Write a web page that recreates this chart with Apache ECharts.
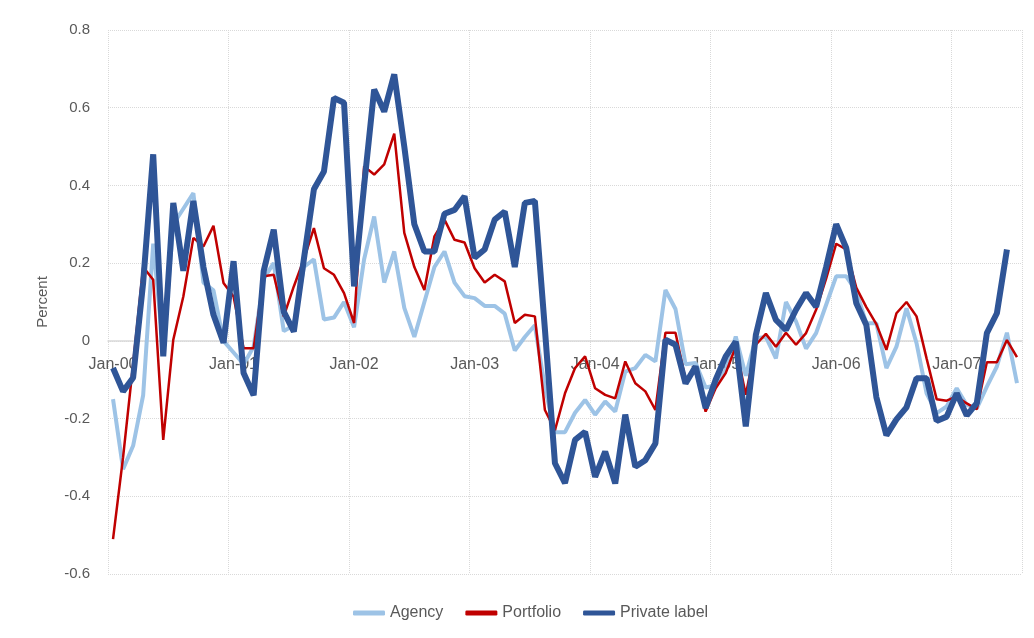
<!DOCTYPE html>
<html>
<head>
<meta charset="utf-8">
<script src="https://cdn.jsdelivr.net/npm/echarts/dist/echarts.min.js"></script>
<style>
  html, body { margin: 0; padding: 0; background: #fff; }
  #chart { width: 1034px; height: 638px; }
</style>
</head>
<body>
<div id="chart"></div>
<script>
// months Jan-00 .. Jul-07
var monthNames = ['Jan','Feb','Mar','Apr','May','Jun','Jul','Aug','Sep','Oct','Nov','Dec'];
var years = ['00','01','02','03','04','05','06','07'];
var lastMonthOfLastYear = 7;

var agency = [
  -0.15, -0.33, -0.27, -0.14, 0.25, -0.02, 0.30, 0.34, 0.38, 0.15, 0.13, 0.00,
  -0.03, -0.06, -0.015, 0.16, 0.20, 0.025, 0.04, 0.19, 0.21, 0.055, 0.06, 0.10,
  0.035, 0.21, 0.32, 0.15, 0.23, 0.085, 0.01, 0.10, 0.19, 0.23, 0.15, 0.115,
  0.11, 0.09, 0.09, 0.07, -0.025, 0.01, 0.04, -0.12, -0.235, -0.235, -0.185, -0.152,
  -0.19, -0.156, -0.182, -0.079, -0.07, -0.036, -0.053, 0.131, 0.082, -0.06, -0.057, -0.12,
  -0.115, -0.075, 0.011, -0.09, 0.007, 0.01, -0.045, 0.10, 0.05, -0.02, 0.02, 0.093,
  0.166, 0.166, 0.128, 0.045, 0.045, -0.07, -0.015, 0.084, -0.006, -0.135, -0.186, -0.169,
  -0.122, -0.165, -0.174, -0.118, -0.066, 0.021, -0.109
];

var portfolio = [
  -0.51, -0.30, -0.06, 0.19, 0.157, -0.255, 0.003, 0.114, 0.265, 0.243, 0.296, 0.149,
  0.114, -0.019, -0.019, 0.166, 0.17, 0.063, 0.14, 0.21, 0.29, 0.187, 0.17, 0.123,
  0.046, 0.449, 0.428, 0.454, 0.533, 0.278, 0.19, 0.131, 0.269, 0.312, 0.26, 0.253,
  0.187, 0.15, 0.17, 0.153, 0.046, 0.067, 0.063, -0.178, -0.23, -0.135, -0.07, -0.04,
  -0.122, -0.139, -0.148, -0.053, -0.109, -0.13, -0.178, 0.021, 0.021, -0.10, -0.079, -0.182,
  -0.122, -0.083, -0.015, -0.139, -0.01, 0.018, -0.015, 0.021, -0.01, 0.02, 0.08, 0.16,
  0.25, 0.235, 0.137, 0.087, 0.043, -0.023, 0.071, 0.10, 0.063, -0.045, -0.15, -0.154,
  -0.143, -0.161, -0.176, -0.055, -0.055, 0.002, -0.042
];

var privateLabel = [
  -0.07, -0.13, -0.095, 0.15, 0.48, -0.04, 0.355, 0.18, 0.36, 0.19, 0.067, -0.005,
  0.205, -0.083, -0.14, 0.18, 0.286, 0.075, 0.024, 0.21, 0.39, 0.436, 0.625, 0.613,
  0.14, 0.40, 0.647, 0.59, 0.686, 0.50, 0.30, 0.23, 0.23, 0.327, 0.337, 0.372,
  0.214, 0.235, 0.312, 0.333, 0.19, 0.355, 0.36, 0.03, -0.315, -0.366, -0.255, -0.234,
  -0.35, -0.285, -0.367, -0.19, -0.324, -0.307, -0.264, 0.003, -0.01, -0.11, -0.066, -0.173,
  -0.10, -0.04, -0.002, -0.22, 0.015, 0.123, 0.054, 0.028, 0.08, 0.123, 0.088, 0.19,
  0.30, 0.239, 0.097, 0.041, -0.145, -0.243, -0.202, -0.171, -0.096, -0.096, -0.206, -0.195,
  -0.135, -0.192, -0.16, 0.02, 0.071, 0.235, null
];

var yTicks = [-0.6, -0.4, -0.2, 0, 0.2, 0.4, 0.6, 0.8];

var categories = [];
years.forEach(function (y, yi) {
  monthNames.forEach(function (m, mi) {
    if (yi === years.length - 1 && mi >= lastMonthOfLastYear) return;
    categories.push(m + '-' + y);
  });
});

var font = 'Liberation Sans';
var isJan = function (index) { return index % 12 === 0; };

// grid geometry, x axis sits on the zero line
var gridTop = 30, gridBottom = 64, chartH = 638;
var plotH = chartH - gridTop - gridBottom;
var yMin = yTicks[0], yMax = yTicks[yTicks.length - 1];
var zeroFromBottom = plotH * (0 - yMin) / (yMax - yMin);

var chart = echarts.init(document.getElementById('chart'));
var option = {
  animation: false,
  textStyle: { fontFamily: font },
  grid: { left: 108, right: 12, top: gridTop, bottom: gridBottom },
  legend: {
    bottom: 12,
    left: 348,
    itemWidth: 32,
    itemHeight: 5,
    itemGap: 22,
    icon: 'roundRect',
    textStyle: { color: '#595959', fontSize: 16, fontFamily: font },
    data: ['Agency', 'Portfolio', 'Private label']
  },
  xAxis: {
    type: 'category',
    data: categories,
    boundaryGap: true,
    offset: -zeroFromBottom,
    axisLine: { onZero: false, lineStyle: { color: '#d9d9d9', width: 1.5 } },
    axisTick: { show: false },
    axisLabel: { interval: 0, formatter: function (v, i) { return isJan(i) ? v : ''; },
      color: '#595959', fontSize: 16, margin: 16 },
    splitLine: { show: true, interval: isJan, lineStyle: { color: '#d9d9d9', type: 'dotted', width: 1 } }
  },
  yAxis: {
    type: 'value',
    min: yMin,
    max: yMax,
    interval: 0.2,
    name: 'Percent',
    nameLocation: 'middle',
    nameGap: 58,
    nameTextStyle: { color: '#595959', fontSize: 15 },
    axisLine: { show: false },
    axisTick: { show: false },
    axisLabel: { color: '#595959', fontSize: 15, margin: 18,
      formatter: function (v) { return Math.abs(v) < 1e-9 ? '0' : v.toFixed(1); } },
    splitLine: { lineStyle: { color: '#d9d9d9', type: 'dotted', width: 1 } }
  },
  series: [
    { name: 'Agency', type: 'line', data: agency, showSymbol: false, symbol: 'none',
      lineStyle: { color: '#9dc3e6', width: 4 }, itemStyle: { color: '#9dc3e6' } },
    { name: 'Portfolio', type: 'line', data: portfolio, showSymbol: false, symbol: 'none',
      lineStyle: { color: '#c00000', width: 2.5 }, itemStyle: { color: '#c00000' } },
    { name: 'Private label', type: 'line', data: privateLabel, showSymbol: false, symbol: 'none',
      lineStyle: { color: '#2f5597', width: 6 }, itemStyle: { color: '#2f5597' } }
  ]
};
chart.setOption(option);
</script>
</body>
</html>
